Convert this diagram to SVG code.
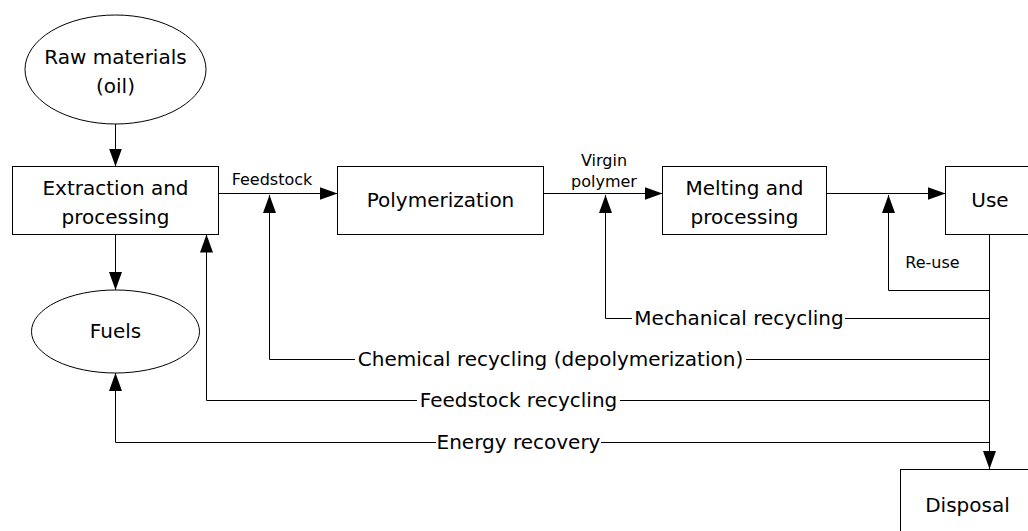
<svg xmlns="http://www.w3.org/2000/svg" width="1028" height="531" viewBox="0 0 1028 531">
<style>
.box{fill:#fff;stroke:#000;stroke-width:1}
.t{font-family:"DejaVu Sans",Verdana,sans-serif;font-size:20px;fill:#000;text-anchor:middle}
.s{font-family:"DejaVu Sans",Verdana,sans-serif;font-size:16px;fill:#000;text-anchor:middle}
.c{fill:none;stroke:#000;stroke-width:1}
</style>
<defs>
<marker id="ah" markerUnits="userSpaceOnUse" markerWidth="18" markerHeight="13" refX="18" refY="6.5" orient="auto">
<path d="M0,0 L18,6.5 L0,13 z" fill="#000"/>
</marker>
</defs>
<rect width="1028" height="531" fill="#fff"/>
<g id="connectors">
<line class="c" x1="115.5" y1="124" x2="115.5" y2="166.5" marker-end="url(#ah)"/>
<line class="c" x1="115.5" y1="234.5" x2="115.5" y2="290" marker-end="url(#ah)"/>
<line class="c" x1="218.5" y1="193.5" x2="337.5" y2="193.5" marker-end="url(#ah)"/>
<line class="c" x1="543.5" y1="193.5" x2="662.5" y2="193.5" marker-end="url(#ah)"/>
<line class="c" x1="826.5" y1="193.5" x2="945.5" y2="193.5" marker-end="url(#ah)"/>
<line class="c" x1="989.5" y1="234.5" x2="989.5" y2="469" marker-end="url(#ah)"/>
<polyline class="c" points="989.5,290.5 888.5,290.5 888.5,195" marker-end="url(#ah)"/>
<polyline class="c" points="632,318.5 605.5,318.5 605.5,195" marker-end="url(#ah)"/>
<line class="c" x1="845" y1="318.5" x2="989.5" y2="318.5"/>
<polyline class="c" points="355,359.5 269.5,359.5 269.5,195" marker-end="url(#ah)"/>
<line class="c" x1="746" y1="359.5" x2="989.5" y2="359.5"/>
<polyline class="c" points="417,400.5 206.5,400.5 206.5,234.5" marker-end="url(#ah)"/>
<line class="c" x1="620" y1="400.5" x2="989.5" y2="400.5"/>
<polyline class="c" points="436,442.5 115.5,442.5 115.5,373" marker-end="url(#ah)"/>
<line class="c" x1="601" y1="442.5" x2="989.5" y2="442.5"/>
<text class="s" x="272" y="185">Feedstock</text>
<text class="s" x="604" y="166">Virgin</text>
<text class="s" x="604" y="187">polymer</text>
<text class="s" x="932.5" y="268">Re-use</text>
<text class="t" x="739" y="325">Mechanical recycling</text>
<text class="t" x="550.5" y="366">Chemical recycling (depolymerization)</text>
<text class="t" x="518.5" y="407">Feedstock recycling</text>
<text class="t" x="518.5" y="449">Energy recovery</text>
</g>
<g id="raw">
<ellipse class="box" cx="115.5" cy="69.5" rx="90.5" ry="54.5"/>
<text class="t" x="115.5" y="64">Raw materials</text>
<text class="t" x="115.5" y="93">(oil)</text>
</g>
<g id="extraction">
<rect class="box" x="12.5" y="166.5" width="206" height="68"/>
<text class="t" x="115.5" y="195">Extraction and</text>
<text class="t" x="115.5" y="224">processing</text>
</g>
<g id="polymerization">
<rect class="box" x="337.5" y="166.5" width="206" height="68"/>
<text class="t" x="440.5" y="207">Polymerization</text>
</g>
<g id="melting">
<rect class="box" x="662.5" y="166.5" width="164" height="68"/>
<text class="t" x="744.5" y="195">Melting and</text>
<text class="t" x="744.5" y="224">processing</text>
</g>
<g id="use">
<rect class="box" x="945.5" y="166.5" width="89" height="68"/>
<text class="t" x="990" y="207">Use</text>
</g>
<g id="fuels">
<ellipse class="box" cx="115.5" cy="331.5" rx="84" ry="41.5"/>
<text class="t" x="115.5" y="338">Fuels</text>
</g>
<g id="disposal">
<rect class="box" x="900.5" y="469.5" width="133" height="80"/>
<text class="t" x="967.5" y="512">Disposal</text>
</g>
</svg>
